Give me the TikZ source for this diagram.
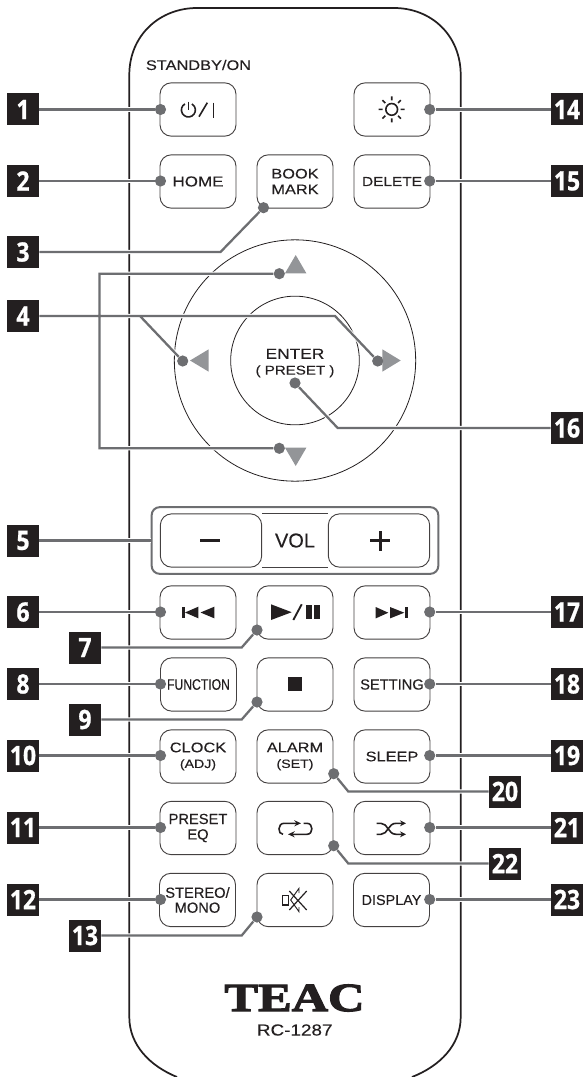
\documentclass[tikz,border=0pt]{standalone}
\usepackage{fontspec}
\usepackage{tikz}
\usetikzlibrary{arrows.meta,calc}
\setmainfont{Liberation Sans}
\newfontfamily\widefont[FakeStretch=1.18,FakeBold=0.25]{Liberation Sans}
\newfontfamily\plainfont[FakeBold=0.25]{Liberation Sans}
\newfontfamily\tagfont[FakeStretch=0.86,FakeBold=0.8]{Open Sans}
\newfontfamily\logofont[FakeStretch=1.26,FakeBold=3]{Liberation Serif}
\definecolor{leadgray}{HTML}{6D6E71}
\definecolor{keygray}{HTML}{939598}
\definecolor{inkblack}{HTML}{231F20}

\begin{document}
\begin{tikzpicture}[x=0.75pt,y=-0.75pt,>=Stealth,
    tagbox/.style={fill=inkblack,text=white,minimum size=24pt,inner sep=0pt,
      font=\tagfont\bfseries\fontsize{20}{20}\selectfont},
    keybox/.style={draw=inkblack!85,line width=0.7pt,rounded corners=8.5pt,minimum width=57pt,
      minimum height=40pt,inner sep=0pt,align=center,text=inkblack,
      font=\widefont\fontsize{10.4}{11.8}\selectfont},
    dot/.style={circle,fill=leadgray,inner sep=0pt,minimum size=8.4pt},
    lead/.style={draw=leadgray,line width=1.7pt,preaction={draw=white,line width=3.2pt}},
    icon/.style={draw=inkblack,line width=1.2pt},
    lbl/.style={text=inkblack,inner sep=0pt,align=center}]
  \useasboundingbox (0,0) rectangle (585,1077);
  \draw[inkblack,line width=1.3pt] (177,1077) .. controls (150,1066) and (129.3,1045) .. (129.3,1017)
    -- (129.3,75) .. controls (129.3,35) and (160,8) .. (197,8)
    -- (394,8) .. controls (431,8) and (460.7,35) .. (460.7,75)
    -- (460.7,1017) .. controls (460.7,1045) and (440,1066) .. (412,1077);

  \node[lbl,font=\widefont\fontsize{10.4}{12}\selectfont] (standby) at (198.5,65) {STANDBY/ON};

  \node[keybox] (power) at (198,109.5) {};
  \node[keybox] (sun) at (392,109.5) {};
  \node[keybox,font=\widefont\fontsize{10.8}{12}\selectfont] (home) at (198,181.5) {HOME};
  \node[keybox] (book) at (295,181.5) {BOOK\\MARK};
  \node[keybox,font=\widefont\fontsize{9.8}{12}\selectfont] (delete) at (392,181.5) {DELETE};

  \node[circle,draw=inkblack,line width=0.6pt,minimum size=181pt,inner sep=0pt] (ring) at (295,360.5) {};
  \node[circle,draw=inkblack,line width=0.6pt,minimum size=96.5pt,inner sep=0pt] (enter) at (295,360.5) {};
  \node[lbl,font=\widefont\fontsize{11}{11.8}\selectfont] (entertext) at (295,363)
    {ENTER\\{\fontsize{9.6}{10}\selectfont( PRESET )}};
  \fill[keygray] (295.7,255) -- (285,273.3) -- (306.4,273.3) -- cycle;
  \fill[keygray] (295.7,466) -- (285,447.7) -- (306.4,447.7) -- cycle;
  \fill[keygray] (190,360.5) -- (208.7,349.3) -- (208.7,371.7) -- cycle;
  \fill[keygray] (400.7,360.5) -- (382.3,349.3) -- (382.3,371.7) -- cycle;

  \node[draw=leadgray,line width=1.5pt,rounded corners=6pt,minimum width=215pt,minimum height=50pt] (volframe) at (295,540.5) {};
  \node[keybox,minimum width=76pt] (volminus) at (211,540.5) {};
  \node[keybox,minimum width=76pt] (volplus) at (379,540.5) {};
  \draw[inkblack!85,line width=0.7pt] (volminus.north east) -- (volplus.north west);
  \draw[inkblack!85,line width=0.7pt] (volminus.south east) -- (volplus.south west);
  \node[lbl,font=\plainfont\fontsize{15}{15}\selectfont] (vol) at (295,540.5) {VOL};
  \fill[inkblack] (200,539.3) rectangle (220,542);
  \fill[inkblack] (370.3,539.2) rectangle (390.3,542);
  \fill[inkblack] (378.9,530.5) rectangle (381.7,550.5);

  \node[keybox] (prev) at (198,612.5) {};
  \node[keybox] (play) at (295,612.5) {};
  \node[keybox] (next) at (392,612.5) {};
  \node[keybox,font=\plainfont\fontsize{11.4}{12}\selectfont] (function) at (198.5,684.5) {\scalebox{0.8}[1]{FUNCTION}};
  \node[keybox] (stop) at (295,684.5) {};
  \node[keybox,font=\plainfont\fontsize{11}{12}\selectfont] (setting) at (392,684.5) {SETTING};
  \node[keybox] (clock) at (198,756.5) {CLOCK\\{\fontsize{9}{10}\selectfont(ADJ)}};
  \node[keybox] (alarm) at (295,756.5) {ALARM\\{\fontsize{9}{10}\selectfont(SET)}};
  \node[keybox] (sleep) at (392,756.5) {SLEEP};
  \node[keybox,font=\plainfont\fontsize{11}{11.6}\selectfont] (eq) at (198,828) {PRESET\\EQ};
  \node[keybox] (repeat) at (295,828) {};
  \node[keybox] (shuffle) at (392,828) {};
  \node[keybox,font=\plainfont\fontsize{11}{11.2}\selectfont] (stereo) at (197.5,900) {STEREO/\\MONO};
  \node[keybox] (mute) at (295,900) {};
  \node[keybox,font=\plainfont\fontsize{10.8}{12}\selectfont] (display) at (391.5,900) {DISPLAY};

  \draw[icon] (184.9,103.9) arc (120:420:5.25pt);
  \draw[icon] (188.4,101.7) -- (188.4,110);
  \draw[icon] (199,116.7) -- (207.3,102.7);
  \draw[icon] (213.3,102.7) -- (213.3,117.7);

  \draw[icon] (391.7,109.4) circle (4.4pt);
  \draw[icon] (391.7,96.4) -- (391.7,100.4) (391.7,118.4) -- (391.7,122.4)
    (378.7,109.4) -- (382.7,109.4) (400.7,109.4) -- (404.7,109.4)
    (382.5,100.2) -- (385.3,103) (398.1,115.8) -- (400.9,118.6)
    (382.5,118.6) -- (385.3,115.8) (398.1,103) -- (400.9,100.2);

  \fill[inkblack] (182.3,606.7) rectangle (184.5,618.3);
  \fill[inkblack] (185,612.5) -- (198.3,606.7) -- (198.3,618.3) -- cycle;
  \fill[inkblack] (200.5,612.5) -- (214.3,606.7) -- (214.3,618.3) -- cycle;
  \fill[inkblack] (271,604.3) -- (291.7,612.2) -- (271,620) -- cycle;
  \draw[inkblack,line width=1.4pt] (293.3,620) -- (301.7,604.3);
  \fill[inkblack] (305.7,605) rectangle (311.7,619);
  \fill[inkblack] (314,605) rectangle (319.6,619);
  \fill[inkblack] (375.7,607) -- (388.3,612.7) -- (375.7,618.4) -- cycle;
  \fill[inkblack] (390,607) -- (404.3,612.7) -- (390,618.4) -- cycle;
  \fill[inkblack] (404.8,607) rectangle (408.3,618.4);
  \fill[inkblack] (288.3,677.3) rectangle (302.3,690.7);

  \draw[icon,->,>={Stealth[length=5pt,width=4.5pt]}] (283,834.3) .. controls (277.5,834.3) and (277.5,823.3) .. (284,823.3) -- (301,823.3);
  \draw[icon,->,>={Stealth[length=5pt,width=4.5pt]}] (303.5,823.3) -- (307,823.3) .. controls (313.5,823.3) and (313.5,834.3) .. (307,834.3) -- (288,834.3);
  \draw[icon,->,>={Stealth[length=4.5pt,width=4.5pt]}] (376.7,823.3) -- (381,823.3) .. controls (388,823.3) and (388,834.3) .. (396,834.3) -- (406,834.3);
  \draw[icon,->,>={Stealth[length=4.5pt,width=4.5pt]}] (376.7,834.3) -- (381,834.3) .. controls (388,834.3) and (388,823.3) .. (396,823.3) -- (406,823.3);

  \draw[icon,line width=0.9pt] (282.7,895.7) rectangle (288.3,905);
  \draw[icon,line width=0.7pt] (299,893) -- (299,888.3) -- (290.7,900) -- (299,911.7) -- (299,907);
  \draw[icon,line width=0.9pt] (289.3,910) -- (306.7,891) (289.3,891) -- (306.7,910);

  \node[lbl,font=\logofont\bfseries\fontsize{30}{30}\selectfont] (teac) at (294.5,998) {TEAC};
  \node[lbl,font=\widefont\fontsize{12}{12}\selectfont] (model) at (294.7,1030) {RC-1287};

  \node[tagbox] (T1) at (23,109.5) {1};
  \node[tagbox] (T2) at (23,181) {2};
  \node[tagbox] (T3) at (23,252) {3};
  \node[tagbox] (T4) at (23,316) {4};
  \node[tagbox] (T5) at (23,540.5) {5};
  \node[tagbox] (T6) at (23,612) {6};
  \node[tagbox] (T7) at (85,647.5) {7};
  \node[tagbox] (T8) at (23,684) {8};
  \node[tagbox] (T9) at (85,719.5) {9};
  \node[tagbox] (T10) at (23,755.5) {10};
  \node[tagbox] (T11) at (23,827.5) {11};
  \node[tagbox] (T12) at (23,899.5) {12};
  \node[tagbox] (T13) at (85,935.5) {13};
  \node[tagbox] (T14) at (567,109.5) {14};
  \node[tagbox] (T15) at (567,181) {15};
  \node[tagbox] (T16) at (567,428) {16};
  \node[tagbox] (T17) at (567,612) {17};
  \node[tagbox] (T18) at (567,684) {18};
  \node[tagbox] (T19) at (567,755.5) {19};
  \node[tagbox] (T20) at (505,791.5) {20};
  \node[tagbox] (T21) at (567,827.5) {21};
  \node[tagbox] (T22) at (505,863.5) {22};
  \node[tagbox] (T23) at (567,899.5) {23};

  \node[dot] (D1) at (160.5,109.5) {};
  \node[dot] (D2) at (160.5,181) {};
  \node[dot] (D3) at (263.5,207.7) {};
  \node[dot] (D4u) at (279.3,273.7) {};
  \node[dot] (D4l) at (182.7,361) {};
  \node[dot] (D4r) at (377.7,361) {};
  \node[dot] (D4d) at (279.3,448.3) {};
  \node[dot] (D6) at (160.5,612) {};
  \node[dot] (D7) at (257,630) {};
  \node[dot] (D8) at (160.5,684) {};
  \node[dot] (D9) at (257,702) {};
  \node[dot] (D10) at (160.5,755.5) {};
  \node[dot] (D11) at (160.5,827.5) {};
  \node[dot] (D12) at (160.5,899.5) {};
  \node[dot] (D13) at (257,917) {};
  \node[dot] (D14) at (429.7,109.5) {};
  \node[dot] (D15) at (429.7,181) {};
  \node[dot] (D16) at (295,383) {};
  \node[dot] (D17) at (429.7,612) {};
  \node[dot] (D18) at (429.7,684) {};
  \node[dot] (D19) at (429.7,755.5) {};
  \node[dot] (D20) at (333.7,773.7) {};
  \node[dot] (D21) at (429.7,827.5) {};
  \node[dot] (D22) at (333.7,845.7) {};
  \node[dot] (D23) at (429.7,899.5) {};

  \coordinate (E3) at (220.5,252);
  \coordinate (E4a) at (335,316);
  \coordinate (E4b) at (99.5,273.7);
  \coordinate (E4c) at (99.5,448.3);
  \coordinate (E4l) at (140,316);
  \coordinate (E7) at (241.7,647.5);
  \coordinate (E9) at (241.7,719.5);
  \coordinate (E13) at (241.7,935.5);
  \coordinate (E16) at (337.7,428);
  \coordinate (E20) at (348.3,791.5);
  \coordinate (E22) at (348.3,863.5);

  \draw[lead] (T1) -- (D1);
  \draw[lead] (T2) -- (D2);
  \draw[lead] (T3) -- (E3) -- (D3);
  \draw[lead] (T4) -- (E4a) -- (D4r) (E4l) -- (D4l) (D4u) -- (E4b) -- (E4c) -- (D4d);
  \draw[lead] (T5) -- (volframe.west |- T5);
  \draw[lead] (T6) -- (D6);
  \draw[lead] (T7) -- (E7) -- (D7);
  \draw[lead] (T8) -- (D8);
  \draw[lead] (T9) -- (E9) -- (D9);
  \draw[lead] (T10) -- (D10);
  \draw[lead] (T11) -- (D11);
  \draw[lead] (T12) -- (D12);
  \draw[lead] (T13) -- (E13) -- (D13);
  \draw[lead] (T14) -- (D14);
  \draw[lead] (T15) -- (D15);
  \draw[lead] (T16) -- (E16) -- (D16);
  \draw[lead] (T17) -- (D17);
  \draw[lead] (T18) -- (D18);
  \draw[lead] (T19) -- (D19);
  \draw[lead] (T20) -- (E20) -- (D20);
  \draw[lead] (T21) -- (D21);
  \draw[lead] (T22) -- (E22) -- (D22);
  \draw[lead] (T23) -- (D23);
\end{tikzpicture}
\end{document}
